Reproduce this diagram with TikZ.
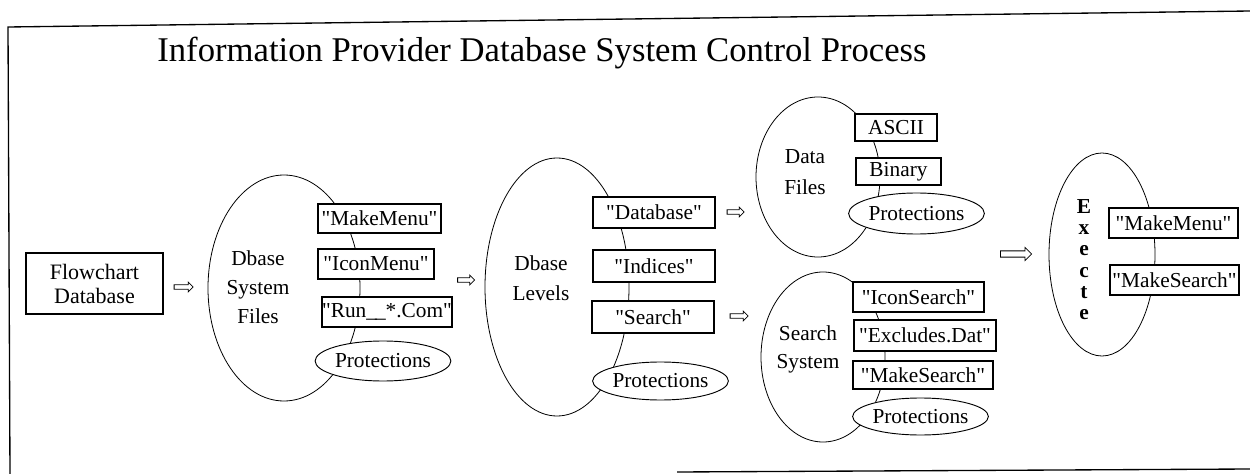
\documentclass[tikz,border=0pt]{standalone}
\usepackage{fontspec}
\setmainfont{Liberation Serif}[Ligatures=TeXOff]
\usetikzlibrary{shapes.geometric,shapes.arrows}
\newcommand\qt[1]{"#1"}
\begin{document}
\begin{tikzpicture}[x=0.75pt,y=-0.75pt,
  sz/.style 2 args={minimum width=#1*0.75pt, minimum height=#2*0.75pt},
  txt/.style={font=\fontsize{16}{19}\selectfont, inner sep=0pt},
  bx/.style={draw, fill=white, rectangle, inner sep=0pt, line width=0.9pt, txt},
  prot/.style={draw, fill=white, ellipse, inner sep=0pt, line width=0.7pt, txt},
  grp/.style={draw, ellipse, inner sep=0pt, line width=0.6pt},
  lbl/.style={align=center, inner sep=0pt},
  harrow/.style={draw, single arrow, inner sep=1.4pt, single arrow head extend=2pt, line width=0.6pt, shape border rotate=0}
]
\useasboundingbox (0,0) rectangle (1250,474);
% frame
\draw[line width=1pt] (10,474) -- (8,27) -- (1250,11);
\draw[line width=1pt] (677,472) -- (1250,469);
% title
\node[inner sep=0pt, font=\fontsize{26}{30}\selectfont] (title) at (542,53) {Information Provider Database System Control Process};

% Flowchart database
\node[bx, sz={137}{61}, align=center, font=\fontsize{16.5}{18}\selectfont] (fc) at (94.5,283.5) {Flowchart\\Database};
\node[harrow, sz={9}{19}] (a1) at (182.5,287) {};

% Dbase System Files
\node[grp, sz={152}{226}] (e1) at (284,288) {};
\node[lbl, txt, font=\fontsize{16}{21.75}\selectfont] (t1) at (258,287) {Dbase\\System\\Files};
\node[bx, sz={123}{29}] (b11) at (379.5,218.5) {\qt{MakeMenu}};
\node[bx, sz={116}{30}] (b12) at (376,264) {\qt{IconMenu}};
\node[bx, sz={130}{30}] (b13) at (387,312) {\qt{Run\_\kern-1.5pt\_*.Com}};
\node[prot, sz={131}{40}] (p1) at (383,361) {Protections};
\node[harrow, sz={9}{17}] (a2) at (465,280) {};

% Dbase Levels
\node[grp, sz={144}{258}] (e2) at (557,287) {};
\node[lbl, txt, font=\fontsize{16}{22.5}\selectfont] (t2) at (541,278) {Dbase\\Levels};
\node[bx, sz={122}{31}] (b21) at (654,212.5) {\qt{Database}};
\node[bx, sz={122}{32}] (b22) at (654,266) {\qt{Indices}};
\node[bx, sz={122}{32}] (b23) at (653,317) {\qt{Search}};
\node[prot, sz={129}{38}] (p2) at (660.5,381) {Protections};
\node[harrow, sz={9}{17}] (a3) at (734.5,212) {};
\node[harrow, sz={9}{18}] (a4) at (738,316) {};

% Data Files
\node[grp, sz={124}{160}] (e3) at (818,177) {};
\node[lbl, txt, font=\fontsize{16}{23.25}\selectfont] (t3) at (805,172) {Data\\Files};
\node[bx, sz={82}{27}] (b31) at (896,127.5) {ASCII};
\node[bx, sz={85}{27}] (b32) at (898.5,171.5) {Binary};
\node[prot, sz={127}{41}] (p3) at (916.5,213.5) {Protections};

% Search System
\node[grp, sz={124}{170}] (e4) at (823,357) {};
\node[lbl, txt, font=\fontsize{16}{21}\selectfont] (t4) at (808,349) {Search\\System};
\node[bx, sz={131}{30}] (b41) at (918.5,297) {\qt{IconSearch}};
\node[bx, sz={142}{31}] (b42) at (925,335.5) {\qt{Excludes.Dat}};
\node[bx, sz={140}{28}] (b43) at (923,375) {\qt{MakeSearch}};
\node[prot, sz={133}{37}] (p4) at (920.5,416.5) {Protections};

% Execute
\node[harrow, sz={13}{31}, inner sep=2pt, single arrow head extend=2.5pt] (a5) at (1014.5,254) {};
\node[grp, sz={106}{203}] (e5) at (1102,254.5) {};
\node[lbl, txt, font=\fontsize{16}{16}\selectfont\bfseries] (t5) at (1084,259.5) {E\\x\\e\\c\\t\\e};
\node[bx, sz={129}{30}] (b51) at (1173.5,223) {\qt{MakeMenu}};
\node[bx, sz={129}{30}] (b52) at (1174.5,280) {\qt{MakeSearch}};
\end{tikzpicture}
\end{document}
